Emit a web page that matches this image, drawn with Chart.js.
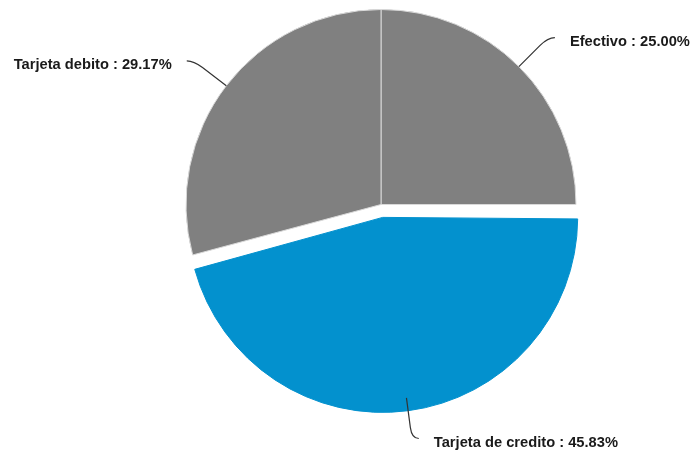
<!DOCTYPE html>
<html>
<head>
<meta charset="utf-8">
<script src="https://cdn.jsdelivr.net/npm/chart.js@4/dist/chart.umd.min.js"></script>
<style>
  html, body { margin: 0; padding: 0; background: #fff; }
  #wrap { width: 696px; height: 450px; }
</style>
</head>
<body>
<div id="wrap"><canvas id="chart" width="696" height="450"></canvas></div>
<script>
// Payment methods and number of transactions for each
const labels = ['Efectivo', 'Tarjeta de credito', 'Tarjeta debito'];
const counts = [6, 11, 7];
const colors = ['#808080', '#0391ce', '#808080'];
const borders = ['#d9d9d9', '#0391ce', '#d9d9d9'];
const offsets = [0, 52, 0];

const total = counts.reduce((a, b) => a + b, 0);

// Chart.js grows an exploded arc's radius a bit; pull it back so all slices share one radius
const keepRadius = {
  id: 'keepRadius',
  afterUpdate(chart) {
    const meta = chart.getDatasetMeta(0);
    meta.data.forEach((arc, i) => {
      const off = (offsets[i] || 0) / 4;
      if (!off) return;
      const circ = arc.endAngle - arc.startAngle;
      const fix = 1 - Math.sin(Math.min(Math.PI, circ));
      arc.outerRadius -= off * fix;
    });
  }
};

// Callout labels with curved leader lines
const callouts = {
  id: 'callouts',
  afterDatasetsDraw(chart) {
    const ctx = chart.ctx;
    const meta = chart.getDatasetMeta(0);
    ctx.save();
    ctx.font = 'bold 14.7px "Liberation Sans", Arial, sans-serif';
    ctx.textBaseline = 'middle';
    meta.data.forEach((arc, i) => {
      const r = arc.outerRadius + (offsets[i] ? (offsets[i] / 4) * (1 - Math.sin(Math.min(Math.PI, arc.endAngle - arc.startAngle))) : 0);
      const mid = (arc.startAngle + arc.endAngle) / 2;
      const dx = Math.cos(mid), dy = Math.sin(mid);
      const cx = arc.x, cy = arc.y;
      const side = dx >= 0 ? 1 : -1;
      const s = { x: cx + dx * r, y: cy + dy * r };
      const b = { x: cx + dx * (r + 30), y: cy + dy * (r + 30) };
      const c = { x: cx + dx * (r + 41), y: cy + dy * (r + 41) };
      const e = { x: c.x + side * 7, y: c.y };

      ctx.strokeStyle = '#333';
      ctx.lineWidth = 1.2;
      ctx.beginPath();
      ctx.moveTo(s.x, s.y);
      ctx.lineTo(b.x, b.y);
      ctx.quadraticCurveTo(c.x, c.y, e.x, e.y);
      ctx.stroke();

      const pct = (counts[i] / total * 100).toFixed(2);
      ctx.fillStyle = '#1a1a1a';
      ctx.textAlign = side > 0 ? 'left' : 'right';
      ctx.fillText(labels[i] + ' : ' + pct + '%', e.x + side * 15, e.y + 4);
    });
    ctx.restore();
  }
};

new Chart(document.getElementById('chart'), {
  type: 'pie',
  data: {
    labels: labels,
    datasets: [{
      data: counts,
      backgroundColor: colors,
      borderColor: borders,
      borderWidth: 1,
      offset: offsets,
      radius: 195
    }]
  },
  options: {
    responsive: false,
    animation: false,
    layout: { padding: { left: 66, top: 0, right: 0, bottom: 41 } },
    plugins: {
      legend: { display: false },
      tooltip: { enabled: false }
    }
  },
  plugins: [keepRadius, callouts]
});
</script>
</body>
</html>
